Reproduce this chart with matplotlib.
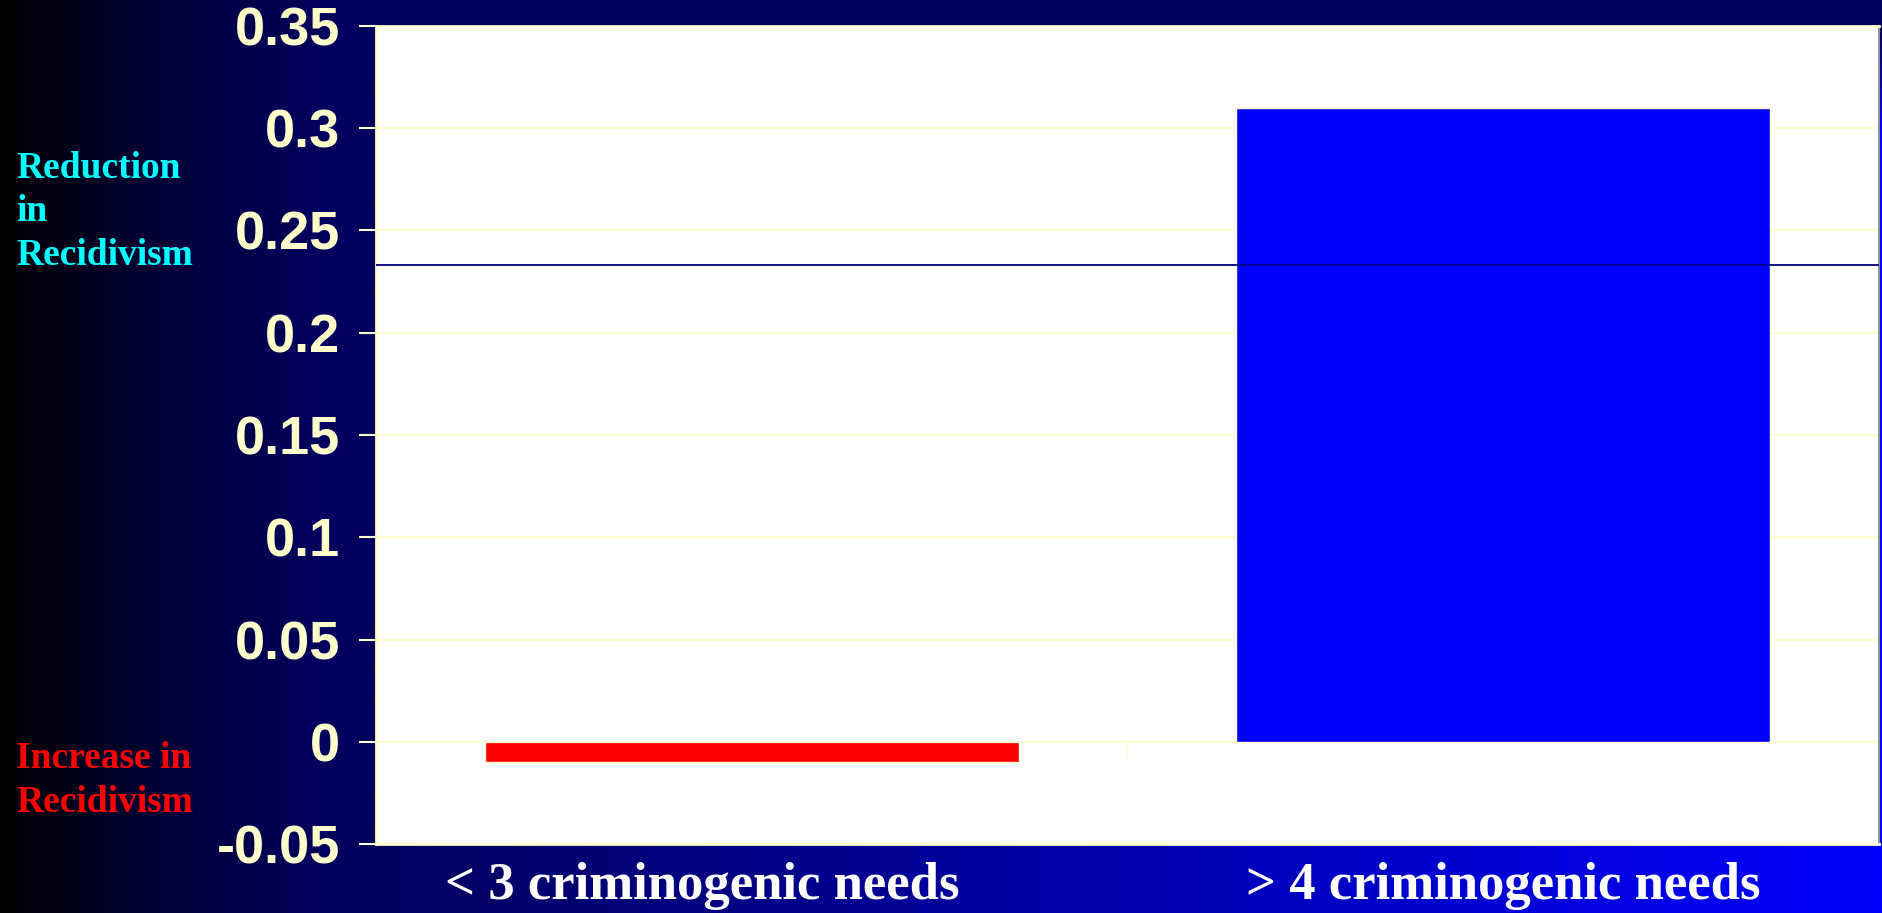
import numpy as np
import matplotlib
matplotlib.use("Agg")
import matplotlib.pyplot as plt
from matplotlib.transforms import ScaledTranslation

# chart data
categories = ["< 3 criminogenic needs", "> 4 criminogenic needs"]
effects = [-0.01, 0.31]
bar_colors = ["#FF0000", "#0000FF"]
reference_level = 0.233
y_ticks = [-0.05, 0, 0.05, 0.1, 0.15, 0.2, 0.25, 0.3, 0.35]
y_tick_labels = ["-0.05", "0", "0.05", "0.1", "0.15", "0.2", "0.25", "0.3", "0.35"]

W, H = 1883, 913
fig = plt.figure(figsize=(W / 100, H / 100), dpi=100)

# slide background: black -> navy on the left, brightening to blue towards bottom right
xx, yy = np.meshgrid(np.arange(W), np.arange(H))
base = 0x5E * np.clip(xx / 320.0, 0, 1) ** 0.8
s = np.clip((xx - 380.0) / (W - 380.0), 0, 1)
t = np.clip((yy - 30.0) / 120.0, 0, 1)
blue = base + (255 - 0x5E) * s * t
bg = np.zeros((H, W, 3))
bg[..., 2] = np.clip(blue, 0, 255) / 255.0
bg[..., 0] = np.clip(base * 0.02, 0, 255) / 255.0
bg_ax = fig.add_axes([0, 0, 1, 1], zorder=-10)
bg_ax.imshow(bg, aspect="auto", extent=[0, 1, 0, 1])
bg_ax.axis("off")

cream = "#FFFFCC"
ax = fig.add_axes([376 / W, 69 / H, 1503 / W, 818 / H])
ax.set_facecolor("white")

x = np.arange(len(categories))
ax.bar(x, effects, width=0.71, color=bar_colors, edgecolor=cream, linewidth=1, zorder=3)
ax.axhline(reference_level, color="#000080", lw=1.3, zorder=4)
# divider tick between categories on the zero axis
ax.plot([0.5, 0.5], [0, -0.007], color=cream, lw=1.5, zorder=2)

ax.set_xlim(-0.5, 1.5)
ax.set_ylim(-0.05, 0.35)
ax.set_yticks(y_ticks)
ax.set_yticklabels(y_tick_labels)
ax.yaxis.grid(True, color=cream, lw=1.5, zorder=1)
ax.set_axisbelow(True)
ax.tick_params(axis="y", colors=cream, length=12, width=1.5, pad=14, labelsize=39)
for lbl in ax.get_yticklabels():
    lbl.set_fontfamily("Liberation Sans")
    lbl.set_fontweight("bold")

ax.set_xticks(x)
ax.set_xticklabels(categories)
ax.tick_params(axis="x", length=0, pad=13, labelsize=38, labelcolor="white")
for lbl, dx in zip(ax.get_xticklabels(), [-49, 0]):
    lbl.set_fontfamily("Liberation Serif")
    lbl.set_fontweight("bold")
    lbl.set_transform(lbl.get_transform() + ScaledTranslation(dx / 100, 0, fig.dpi_scale_trans))

for side in ["left", "top", "bottom"]:
    ax.spines[side].set_color(cream)
    ax.spines[side].set_linewidth(2)
ax.spines["right"].set_color("#9090A0")
ax.spines["right"].set_linewidth(1.5)

# side captions (baseline of the last line given)
fig.text(16 / W, 1 - 265 / H, "Reduction\nin\nRecidivism", color="#00FFFF",
         fontsize=27, fontweight="bold", family="Liberation Serif",
         va="baseline", ha="left", linespacing=1.32)
fig.text(16 / W, 1 - 812 / H, "Increase in\nRecidivism", color="#FF0000",
         fontsize=27, fontweight="bold", family="Liberation Serif",
         va="baseline", ha="left", linespacing=1.32)

fig.savefig("out.png", dpi=100)
